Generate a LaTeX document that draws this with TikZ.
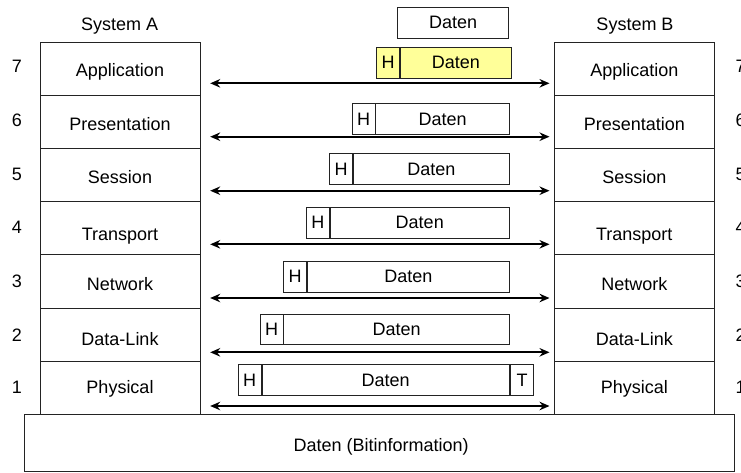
\documentclass[tikz,border=0pt]{standalone}
\usepackage{fontspec}
\setmainfont{Liberation Sans}
\usetikzlibrary{arrows.meta,calc}
\definecolor{pktyellow}{RGB}{255,255,153}
\definecolor{edge}{RGB}{35,35,35}

\begin{document}
\begin{tikzpicture}[x=1pt,y=-1pt,
  font=\fontsize{18}{21}\selectfont,
  layer/.style={draw=edge,line width=0.9pt,minimum width=160pt,minimum height=53.1pt,
    inner sep=0pt,anchor=north west},
  lbl/.style={inner sep=0pt,text height=12.8pt,text depth=0pt},
  pkt/.style={draw=edge,line width=0.8pt,minimum height=30.8pt,inner sep=0pt,
    text height=12.8pt,text depth=0pt,anchor=north west},
  arr/.style={line width=1.8pt,
    {Stealth[length=10pt,width=8.5pt]}-{Stealth[length=10pt,width=8.5pt]}},
]
\useasboundingbox (0,0) rectangle (741,472);
\clip (0,0) rectangle (741,472);

% system titles
\node[lbl] (sysA) at (119.7,23.7) {System A};
\node[lbl] (sysB) at (635,23.7) {System B};

% the two protocol stacks with layer numbers
\foreach \n/\name/\ty/\ny [count=\i from 0] in {
    7/Application/69.8/66.4, 6/Presentation/123.8/119.8, 5/Session/177.4/174.3,
    4/Transport/234.2/227.3, 3/Network/284/280.7, 2/Data-Link/338.8/335,
    1/Physical/386.8/387}{
  \node[layer] (A\n) at (40,{42+53.1*\i}) {};
  \node[layer] (B\n) at (554.3,{42+53.1*\i}) {};
  \node[lbl] (At\n) at (120,\ty) {\name};
  \node[lbl] (Bt\n) at (634.3,\ty) {\name};
  \node[lbl] (An\n) at (17,\ny) {\n};
  \node[lbl] (Bn\n) at (740.5,\ny) {\n};
}

% physical medium
\node[draw=edge,line width=0.9pt,minimum width=710pt,minimum height=57.3pt,
  inner sep=0pt,anchor=north west] (medium) at (24,414) {};
\node[lbl] (mediumt) at (381.2,445) {Daten (Bitinformation)};

% user data above the stack
\node[pkt,minimum width=111pt] (D8) at (397.3,6.7) {Daten};

% layer 7 packet (highlighted)
\node[pkt,fill=pktyellow,minimum width=23.3pt] (H7) at (376,46.7) {H};
\node[pkt,fill=pktyellow,minimum width=110.7pt] (D7) at (H7.north east) {Daten};

% layers 6 to 2: header + data
\foreach \n/\t/\l in {6/103/351.7, 5/153.3/329.3, 4/206.7/306, 3/260.7/283.3, 2/313.5/259.8}{
  \node[pkt,minimum width=22.8pt] (H\n) at (\l,\t) {H};
  \node[pkt,minimum width={508.3-\l-22.8}] (D\n) at (H\n.north east) {Daten};
}

% layer 1 frame: header, data, trailer
\node[pkt,minimum width=23pt] (H1) at (237.7,364) {H};
\node[pkt,minimum width=247.6pt] (D1) at (H1.north east) {Daten};
\node[pkt,minimum width=23.4pt] (T1) at (D1.north east) {T};

% peer-to-peer communication between corresponding layers
\foreach \n/\y in {7/83.3, 6/136.7, 5/190.7, 4/244.3, 3/298, 2/352.3, 1/406}{
  \coordinate (y\n) at (0,\y);
  \draw[arr] ($(A\n.east |- y\n)+(9.3,0)$) -- ($(B\n.west |- y\n)+(-4.8,0)$);
}
\end{tikzpicture}
\end{document}
